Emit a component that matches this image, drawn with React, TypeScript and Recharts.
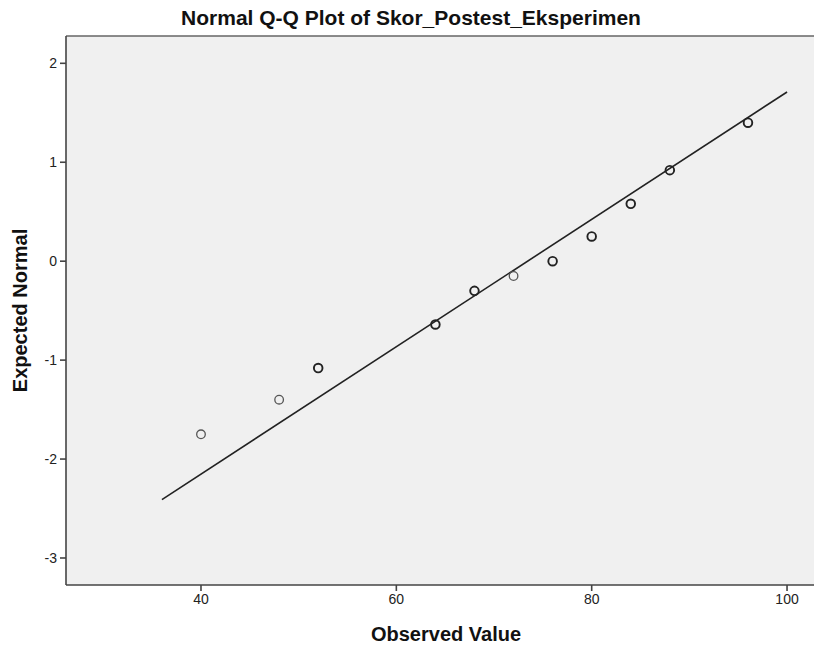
import { ScatterChart, Scatter, XAxis, YAxis, CartesianGrid, ReferenceLine } from "recharts";

// observed scores and their expected normal values
const observed = [40, 48, 52, 64, 68, 72, 76, 80, 84, 88, 96];
const expected = [-1.75, -1.4, -1.08, -0.64, -0.3, -0.15, 0.0, 0.25, 0.58, 0.92, 1.4];
// how many cases sit on each point (ties draw darker rings)
const ties = [1, 1, 2, 2, 2, 1, 2, 2, 2, 2, 2];

// reference line ends
const lineX = [36, 100];
const lineY = [-2.41, 1.71];

const xTicks = [40, 60, 80, 100];
const yTicks = [-3, -2, -1, 0, 1, 2];

const points = observed.map((x, i) => ({ x, y: expected[i], n: ties[i] }));
const fitLine = lineX.map((x, i) => ({ x, y: lineY[i] }));

const FONT = '"Liberation Sans", Arial, sans-serif';
const AXIS = "#444";

type DotProps = { cx?: number; cy?: number; payload?: { n: number } };

const Ring = ({ cx, cy, payload }: DotProps) => {
    if (cx == null || cy == null) return null;
    const heavy = payload && payload.n > 1;
    return (
        <circle cx={cx} cy={cy} r={4.3} fill="none" stroke={heavy ? "#222" : "#555"} strokeWidth={heavy ? 1.9 : 1.3} />
    );
};

const NoDot = () => <g />;

export default function App() {
    return (
        <div style={{ position: "absolute", left: 0, top: 0, width: 814, height: 645, background: "#fff", fontFamily: FONT }}>
            <div
                style={{
                    position: "absolute",
                    left: 0,
                    top: 6,
                    width: 822,
                    textAlign: "center",
                    fontSize: 21,
                    fontWeight: "bold",
                    lineHeight: "24px",
                    color: "#111",
                }}
            >
                Normal Q-Q Plot of Skor_Postest_Eksperimen
            </div>
            <ScatterChart width={814} height={645} margin={{ top: 36, right: 0, bottom: 0, left: 0 }}>
                <CartesianGrid horizontal={false} vertical={false} fill="#f0f0f0" stroke="none" />
                <XAxis
                    type="number"
                    dataKey="x"
                    domain={[26.18, 102.76]}
                    allowDataOverflow
                    ticks={xTicks}
                    height={60}
                    tickSize={6}
                    tickMargin={3}
                    stroke={AXIS}
                    strokeWidth={1.6}
                    tick={{ fill: "#222", fontSize: 14, fontFamily: FONT }}
                    label={{
                        value: "Observed Value",
                        position: "insideBottom",
                        offset: 4,
                        dx: 6,
                        style: { fontSize: 20, fontWeight: "bold", fill: "#111", fontFamily: FONT },
                    }}
                />
                <YAxis
                    type="number"
                    dataKey="y"
                    domain={[-3.273, 2.276]}
                    allowDataOverflow
                    ticks={yTicks}
                    width={66}
                    tickSize={6}
                    tickMargin={3}
                    stroke={AXIS}
                    strokeWidth={1.6}
                    tick={{ fill: "#222", fontSize: 14, fontFamily: FONT }}
                    label={{
                        value: "Expected Normal",
                        angle: -90,
                        position: "insideLeft",
                        offset: 20,
                        style: { textAnchor: "middle", fontSize: 20, fontWeight: "bold", fill: "#111", fontFamily: FONT },
                    }}
                />
                <ReferenceLine y={2.276} stroke="#666" strokeWidth={1.6} />
                <Scatter
                    data={fitLine}
                    line={{ stroke: "#222", strokeWidth: 1.6 }}
                    shape={NoDot}
                    isAnimationActive={false}
                    legendType="none"
                />
                <Scatter data={points} shape={Ring} isAnimationActive={false} />
            </ScatterChart>
        </div>
    );
}
